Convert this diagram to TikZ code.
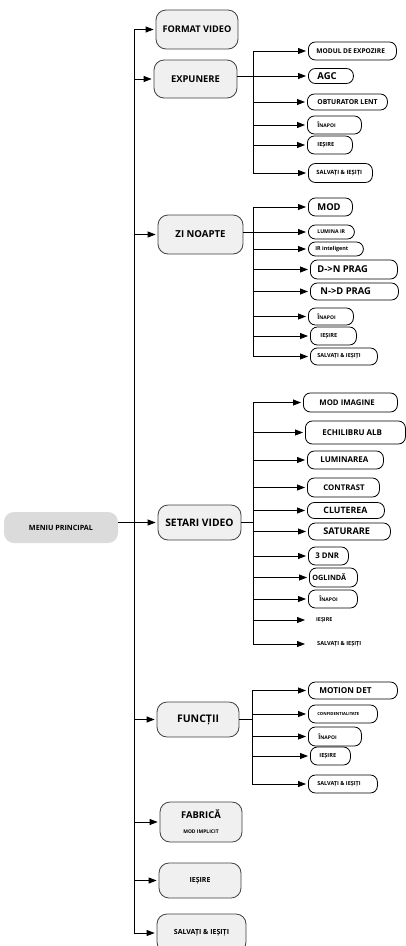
\documentclass[tikz,border=0pt]{standalone}
\usepackage{fontspec}
\setmainfont{Open Sans}
\usetikzlibrary{arrows.meta}
\newcommand\myfs[1]{\fontsize{#1}{#1}\selectfont\bfseries}
\newcommand\lbx[4]{\hbox to #1pt{\hskip #2pt\myfs{#3}#4\hfil}}
\newcommand\inap{{\myfs{6}Î}{\myfs{5}NAPOI}}
\tikzset{
  mainbox/.style={draw=black!75, fill=black!6, rounded corners=10pt, line width=0.8pt, inner sep=0pt, align=center},
  subbox/.style={draw=black, fill=white, rounded corners=7pt, line width=0.8pt, inner sep=0pt, anchor=west},
  plainbox/.style={inner sep=0pt, anchor=west},
  arr/.style={-{Triangle[length=8pt,width=6pt]}, line width=0.8pt, shorten >=2pt},
  ln/.style={line width=0.8pt}
}
\begin{document}
\begin{tikzpicture}[x=1pt,y=-1pt]
\useasboundingbox (0,0) rectangle (405,946);
% main column
\node[mainbox, minimum width=82pt, minimum height=39pt, font=\myfs{9.2}] (fv) at (197,29.5) {FORMAT VIDEO};
\node[mainbox, minimum width=83pt, minimum height=38pt, font=\myfs{9.4}] (ex) at (195.5,79) {EXPUNERE};
\node[mainbox, minimum width=85pt, minimum height=39pt, font=\myfs{9.6}] (zn) at (200.5,234.5) {ZI NOAPTE};
\node[mainbox, minimum width=83pt, minimum height=35pt, font=\myfs{10.3}] (sv) at (199.5,522.5) {SETARI VIDEO};
\node[fill=black!14, rounded corners=10pt, minimum width=114pt, minimum height=31pt, inner sep=0pt, font=\myfs{7.2}] (mp) at (61,527.5) {MENIU PRINCIPAL};
\node[mainbox, minimum width=82pt, minimum height=35pt, font=\myfs{10.5}] (fu) at (198,719.5) {FUNCȚII};
\node[mainbox, minimum width=82pt, minimum height=40pt] (fa) at (201,822) {{\myfs{9.4}FABRICĂ}\\[3pt]{\myfs{5}MOD IMPLICIT}};
\node[mainbox, minimum width=82pt, minimum height=35pt, font=\myfs{7}] (ie) at (200,880.5) {IEȘIRE};
\node[mainbox, minimum width=89pt, minimum height=38pt, font=\myfs{7}] (sa) at (201.5,933) {SALVAȚI \& IEȘIȚI};
% EXPUNERE submenu
\node[subbox, minimum height=18pt] (e1) at (308,51) {\lbx{88}{8}{6.6}{MODUL DE EXPOZIRE}};
\node[subbox, minimum height=15pt] (e2) at (308,76) {\lbx{45}{9}{9.5}{AGC}};
\node[subbox, minimum height=16pt] (e3) at (307,102) {\lbx{80}{10}{6.8}{OBTURATOR LENT}};
\node[subbox, minimum height=18pt] (e4) at (307,125) {\lbx{54}{10}{6}{\inap}};
\node[subbox, minimum height=18pt] (e5) at (307,145) {\lbx{45}{10}{5.6}{IEȘIRE}};
\node[subbox, minimum height=19pt] (e6) at (308,173) {\lbx{64}{8}{5.8}{SALVAȚI \& IEȘIȚI}};
% ZI NOAPTE submenu
\node[subbox, minimum height=18pt] (z1) at (308,207) {\lbx{44}{9}{9.4}{MOD}};
\node[subbox, minimum height=14pt] (z2) at (308,232) {\lbx{46}{9}{5.2}{LUMINA IR}};
\node[subbox, minimum height=14pt] (z3) at (308,249) {\lbx{55}{7}{5.4}{IR inteligent}};
\node[subbox, minimum height=19pt] (z4) at (310,269.5) {\lbx{87}{7}{9.4}{D->N PRAG}};
\node[subbox, minimum height=17pt] (z5) at (310,291.5) {\lbx{88}{10}{9.4}{N->D PRAG}};
\node[subbox, minimum height=17pt] (z6) at (308,316.5) {\lbx{45}{9}{6}{\inap}};
\node[subbox, minimum height=18pt] (z7) at (310,336) {\lbx{46}{10}{5.6}{IEȘIRE}};
\node[subbox, minimum height=17pt] (z8) at (310,356.5) {\lbx{67}{7}{5.5}{SALVAȚI \& IEȘIȚI}};
% SETARI VIDEO submenu
\node[subbox, minimum height=19pt] (s1) at (303,402.5) {\lbx{94}{16}{7.8}{MOD IMAGINE}};
\node[subbox, minimum height=23pt] (s2) at (305,432.5) {\lbx{100}{17}{8}{ECHILIBRU ALB}};
\node[subbox, minimum height=18pt] (s3) at (307,460) {\lbx{76}{13}{8}{LUMINAREA}};
\node[subbox, minimum height=19pt] (s4) at (307,487.5) {\lbx{72}{16}{7.8}{CONTRAST}};
\node[subbox, minimum height=16pt] (s5) at (307,510.5) {\lbx{77}{16}{8.8}{CLUTEREA}};
\node[subbox, minimum height=17pt] (s6) at (308,531.5) {\lbx{82}{15}{9.2}{SATURARE}};
\node[subbox, minimum height=18pt] (s7) at (308,556) {\lbx{40}{7}{7.8}{3 DNR}};
\node[subbox, minimum height=19pt] (s8) at (309,577.5) {\lbx{48}{3}{7.3}{OGLINDĂ}};
\node[subbox, minimum height=18pt] (s9) at (308,599) {\lbx{49}{11}{6}{\inap}};
\node[plainbox] (s10) at (307,620) {\lbx{40}{9}{5.4}{IEȘIRE}};
\node[plainbox] (s11) at (307,644) {\lbx{60}{10}{5.6}{SALVAȚI \& IEȘIȚI}};
% FUNCTII submenu
\node[subbox, minimum height=17pt] (f1) at (308,690.5) {\lbx{89}{11}{8.2}{MOTION DET}};
\node[subbox, minimum height=18pt] (f2) at (308,714) {\lbx{69}{9}{4.2}{CONFIDENTIALITATE}};
\node[subbox, minimum height=19pt] (f3) at (308,736.5) {\lbx{53}{10}{6}{\inap}};
\node[subbox, minimum height=18pt] (f4) at (310,756) {\lbx{40}{9}{5.6}{IEȘIRE}};
\node[subbox, minimum height=18pt] (f5) at (308,784) {\lbx{69}{9}{5.5}{SALVAȚI \& IEȘIȚI}};
% trunk coordinates
\coordinate (tr) at (134,0);
\coordinate (et) at (253,0);
\coordinate (zt) at (253,0);
\coordinate (st) at (253,0);
\coordinate (ft) at (252,0);
% main trunk
\draw[ln] (tr |- fv.west) -- (tr |- sa.west);
\foreach \n in {fv,ex,zn,fu,fa,ie,sa} \draw[arr] (tr |- \n.west) -- (\n.west);
\draw[arr] (mp.east |- sv.west) -- (sv.west);
% EXPUNERE
\draw[ln] (et |- e1.west) -- (et |- e6.west);
\foreach \n in {e1,e3,e4,e5,e6} \draw[arr] (et |- \n.west) -- (\n.west);
\draw[arr] (ex.east |- e2.west) -- (e2.west);
% ZI NOAPTE
\draw[ln] (zt |- z1.west) -- (zt |- z8.west);
\foreach \n in {z1,z3,z4,z5,z6,z7,z8} \draw[arr] (zt |- \n.west) -- (\n.west);
\draw[arr] (zn.east |- z2.west) -- (z2.west);
% SETARI VIDEO
\draw[ln] (st |- s1.west) -- (st |- s11.west);
\foreach \n in {s1,s2,s3,s4,s5,s6,s7,s8,s9,s10,s11} \draw[arr] (st |- \n.west) -- (\n.west);
\draw[ln] (sv.east) -- (st |- sv.east);
% FUNCTII
\draw[ln] (ft |- f1.west) -- (ft |- f5.west);
\foreach \n in {f1,f2,f3,f4,f5} \draw[arr] (ft |- \n.west) -- (\n.west);
\draw[ln] (fu.east) -- (ft |- fu.east);
\end{tikzpicture}
\end{document}
